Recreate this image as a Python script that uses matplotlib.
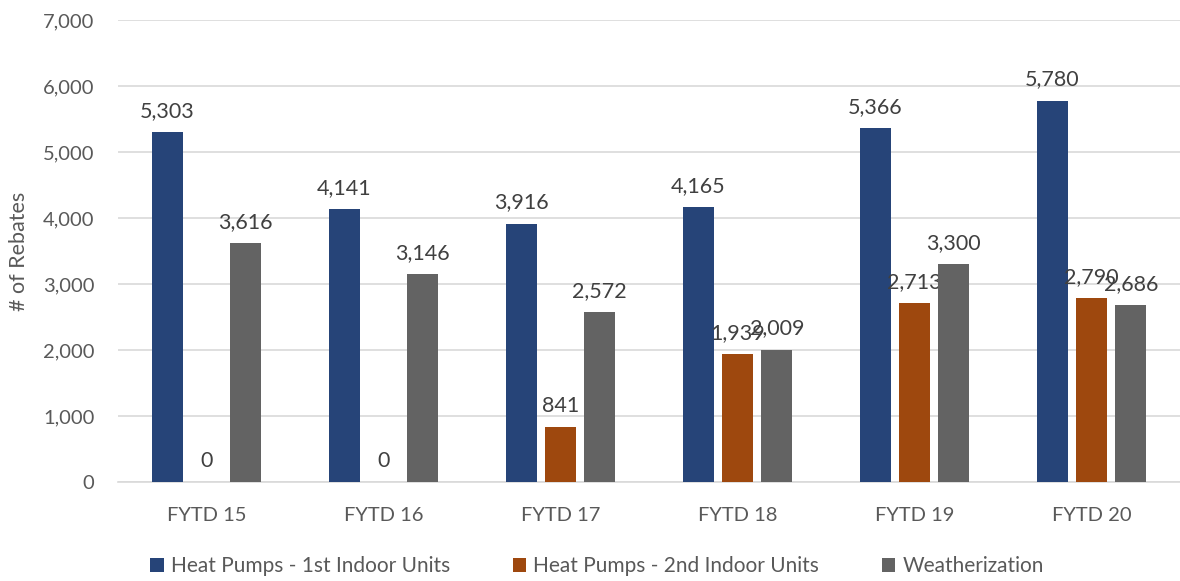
import matplotlib
matplotlib.use("Agg")
import matplotlib.pyplot as plt
import numpy as np

plt.rcParams['font.family'] = ['Lato', 'DejaVu Sans']

years = ['FYTD 15', 'FYTD 16', 'FYTD 17', 'FYTD 18', 'FYTD 19', 'FYTD 20']
hp_first = [5303, 4141, 3916, 4165, 5366, 5780]
hp_second = [0, 0, 841, 1939, 2713, 2790]
weather = [3616, 3146, 2572, 2009, 3300, 2686]

series = [
    ('Heat Pumps - 1st Indoor Units', hp_first, '#264478'),
    ('Heat Pumps - 2nd Indoor Units', hp_second, '#9e480e'),
    ('Weatherization', weather, '#636363'),
]

fig = plt.figure(figsize=(11.8, 5.81), dpi=100)
ax = fig.add_axes([0.1, 0.17, 0.9, 0.7956])

x = np.arange(len(years))
width = 0.175
step = 0.222

for i, (name, vals, color) in enumerate(series):
    pos = x + (i - 1) * step
    ax.bar(pos, vals, width, color=color, label=name, zorder=3)
    for p, v in zip(pos, vals):
        ax.annotate(f'{v:,}', (p, v), xytext=(0, 8), textcoords='offset points',
                    ha='center', va='bottom', fontsize=15.5, color='#404040')

ax.set_xlim(-0.5, len(years) - 0.5)
ax.set_ylim(0, 7000)
ax.set_yticks(range(0, 7001, 1000))
ax.yaxis.set_major_formatter(matplotlib.ticker.FuncFormatter(lambda v, _: f'{int(v):,}'))
ax.set_xticks(x)
ax.set_xticklabels(years)
ax.tick_params(axis='both', length=0, labelsize=14.5, colors='#595959')
ax.tick_params(axis='x', pad=18)
ax.tick_params(axis='y', pad=17)
ax.grid(True, axis='y', color='#d9d9d9', linewidth=1.2, zorder=0)
for s in ['top', 'right', 'left']:
    ax.spines[s].set_visible(False)
ax.spines['bottom'].set_color('#d9d9d9')
ax.spines['bottom'].set_linewidth(1.2)

ax.set_ylabel('# of Rebates', fontsize=15.5, color='#595959', labelpad=10)

ax.legend(loc='center', bbox_to_anchor=(0.451, -0.182), ncol=3, frameon=False,
          fontsize=15, handlelength=0.65, handleheight=0.65, columnspacing=3.0,
          handletextpad=0.35, labelcolor='#595959')

plt.savefig('out.png', dpi=100)
plt.close()
